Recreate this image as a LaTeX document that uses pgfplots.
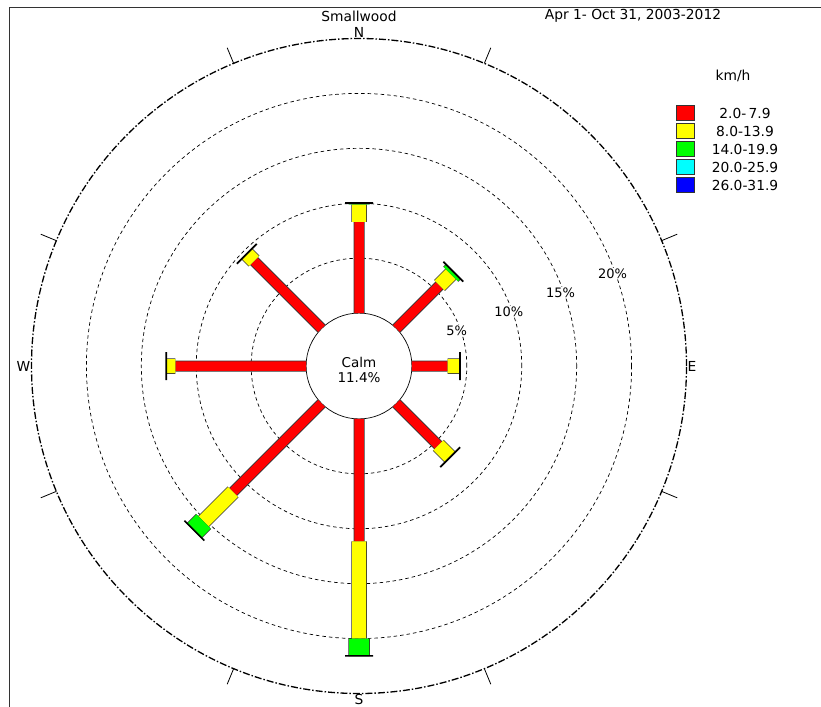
\documentclass[border=0pt]{standalone}
\usepackage{fontspec}
\setmainfont{DejaVu Sans}
\usepackage{pgfplots}
\pgfplotsset{compat=1.18}
\usepgfplotslibrary{polar}

% radial offset of the calm circle, in percent units (53px / 11px per %)
\def\calm{4.818}

\definecolor{wred}{RGB}{255,0,0}
\definecolor{wyellow}{RGB}{255,255,0}
\definecolor{wgreen}{RGB}{0,255,0}
\definecolor{wcyan}{RGB}{0,255,255}
\definecolor{wblue}{RGB}{0,0,255}

\pgfplotsset{
  seg/.style n args={3}{draw=#1, line width=#2, line cap=butt, mark=none,
    preaction={draw=black!80, line width=#3, line cap=butt}},
}

\begin{document}
\begin{tikzpicture}[x=1bp,y=1bp,font=\fontsize{13.8bp}{16bp}\selectfont]
\path[use as bounding box] (0,0) rectangle (821,-707);
\draw[line width=1.2bp, black!80] (9.5,-707) -- (9.5,-7.5) -- (821,-7.5);
\coordinate (ctr) at (359,-366);

\node at (359,-16) {Smallwood};
\node at (633,-16) {Apr 1- Oct 31, 2003-2012};
\node at (733,-76) {km/h};

% legend
\foreach \c/\t [count=\i] in {wred/{2.0-\,7.9}, wyellow/{8.0-13.9}, wgreen/{14.0-19.9}, wcyan/{20.0-25.9}, wblue/{26.0-31.9}} {
  \draw[fill=\c, draw=black!80, line width=0.8bp] (676,-113-18*\i+18+7.5) rectangle (694,-113-18*\i+18-7.5);
  \node at (745,-113-18*\i+18) {\t};
}

\begin{polaraxis}[
  at={(ctr)}, anchor=origin,
  scale only axis, width=655bp, height=655bp,
  xmin=0, xmax=360, ymin=0, ymax=29.818,
  unbounded coords=jump,
  x filter/.expression={mod(450-x,360)},
  y filter/.expression={y+\calm},
  xtick={22.5,67.5,112.5,157.5,202.5,247.5,292.5,337.5},
  xticklabels={},
  xmajorgrids=false,
  extra x ticks={0,90,180,270},
  extra x tick labels={E,N,W,S},
  extra x tick style={major tick length=0pt, xmajorgrids=false},
  xticklabel style={inner sep=1bp},
  major tick length=17bp, tick align=inside,
  tick style={black, line width=0.8bp},
  ytick={9.818,14.818,19.818,24.818},
  yticklabels={},
  ytick style={draw=none},
  ymajorgrids,
  grid style={black, line width=0.7bp, dash pattern=on 3.5bp off 3bp},
  extra y ticks={\calm},
  extra y tick labels={},
  extra y tick style={grid style={solid, black, line width=0.7bp}},
  axis line style={black, line width=1.3bp, dash pattern=on 7bp off 2bp on 1.5bp off 2bp},
  y axis line style={draw=none},
]
% bearing (deg), cumulative percent
% red 2.0-7.9 km/h
\addplot[seg={wred}{9.5bp}{11bp}] coordinates {
  (0,0)(0,8.3) (0,nan)
  (45,0)(45,5.55) (45,nan)
  (90,0)(90,3.25) (90,nan)
  (135,0)(135,5.4) (135,nan)
  (180,0)(180,11.15) (180,nan)
  (225,0)(225,11.4) (225,nan)
  (270,0)(270,11.9) (270,nan)
  (315,0)(315,8.7)
};
% yellow 8.0-13.9 km/h
\addplot[seg={wyellow}{14bp}{15.5bp}] coordinates {
  (0,8.3)(0,9.9) (0,nan)
  (45,5.55)(45,7.0) (45,nan)
  (90,3.25)(90,4.35) (90,nan)
  (135,5.4)(135,6.9) (135,nan)
  (180,11.15)(180,20.0) (180,nan)
  (225,11.4)(225,15.2) (225,nan)
  (270,11.9)(270,12.7) (270,nan)
  (315,8.7)(315,9.6)
};
% green 14.0-19.9 km/h
\addplot[seg={wgreen}{20bp}{21.5bp}] coordinates {
  (0,9.9)(0,10.05) (0,nan)
  (45,7.0)(45,7.35) (45,nan)
  (180,20.0)(180,21.6) (180,nan)
  (225,15.2)(225,16.4)
};
% end caps
\addplot[draw=black, line width=28bp, line cap=butt, mark=none] coordinates {
  (0,9.95)(0,10.1) (0,nan)
  (45,7.25)(45,7.4) (45,nan)
  (90,4.3)(90,4.45) (90,nan)
  (135,6.85)(135,7.0) (135,nan)
  (180,21.5)(180,21.65) (180,nan)
  (225,16.3)(225,16.45) (225,nan)
  (270,12.65)(270,12.8) (270,nan)
  (315,9.55)(315,9.7)
};
% ring labels
\addplot[draw=none, mark=none, point meta=explicit symbolic,
  nodes near coords={\pgfplotspointmeta},
  every node near coord/.append style={anchor=center, fill=white, inner sep=0.5bp, font=\fontsize{13bp}{15bp}\selectfont}]
  coordinates {(70,4.65) [5\%] (70,9.7) [10\%] (70,14.7) [15\%] (70,19.75) [20\%]};
\end{polaraxis}

\node[align=center, font=\fontsize{13.5bp}{15bp}\selectfont] at (359,-370) {Calm\\11.4\%};
\end{tikzpicture}
\end{document}
